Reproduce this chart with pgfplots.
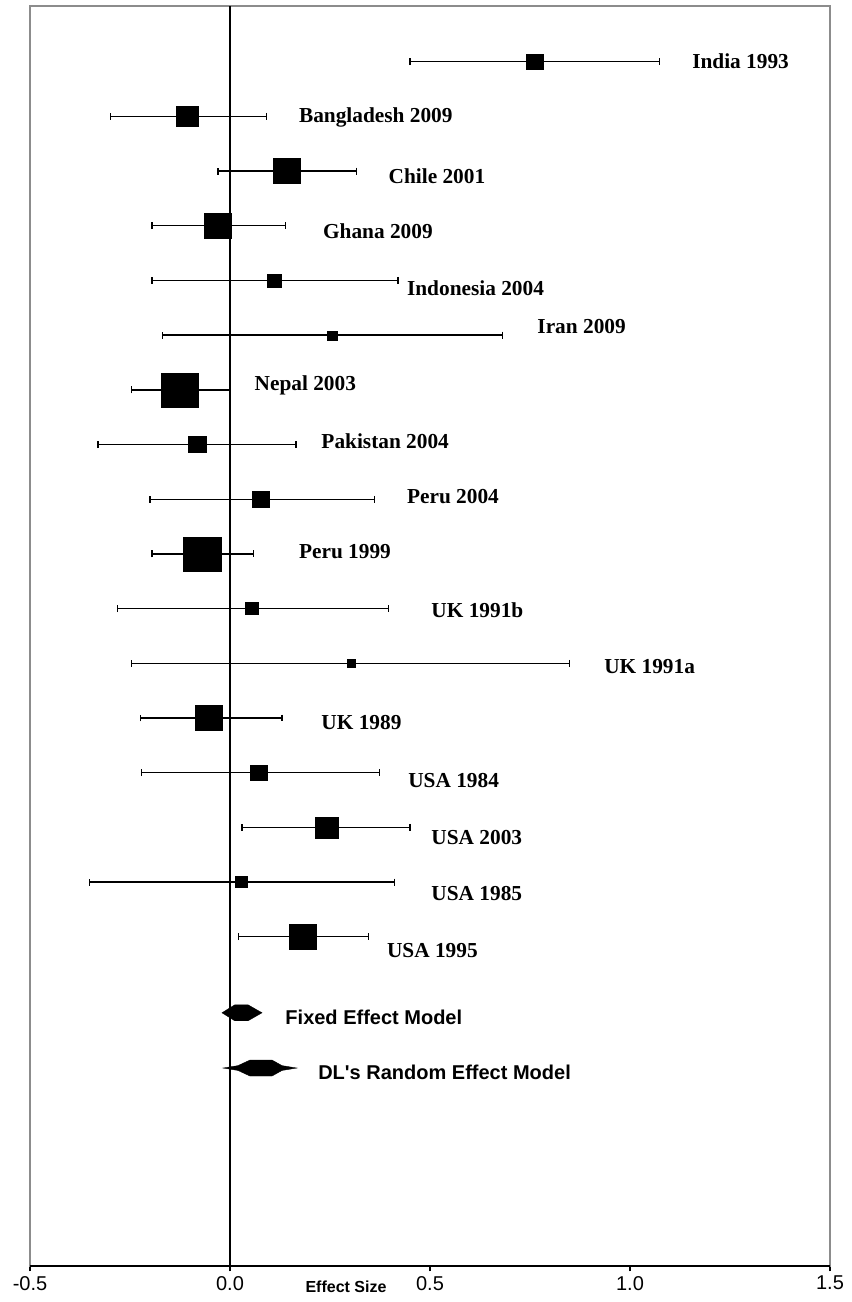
\documentclass[border=0pt]{standalone}
\usepackage{fontspec}
\setmainfont{Liberation Serif}
\setsansfont{Liberation Sans}
\usepackage{pgfplots}
\usepackage{pgfplotstable}
\pgfplotsset{compat=1.18}
\definecolor{framegray}{RGB}{140,140,140}
\tikzset{
  lab/.style={font=\fontsize{16}{16}\selectfont\bfseries, anchor=west, inner sep=0pt},
  mlab/.style={font=\fontsize{15}{15}\selectfont\sffamily\bfseries, anchor=west, inner sep=0pt},
}

\pgfplotstableread{
name x lo hi y s
India 0.762 0.450 1.074 0 15
Bangladesh -0.107 -0.299 0.0905 1 20
Chile 0.142 -0.030 0.316 2 25
Ghana -0.031 -0.195 0.139 3 25
Indonesia 0.111 -0.195 0.420 4 13
Iran 0.255 -0.169 0.681 5 9
Nepal -0.126 -0.247 -0.001 6 34
Pakistan -0.082 -0.330 0.165 7 16
Peru2004 0.077 -0.200 0.362 8 16
Peru1999 -0.070 -0.195 0.059 9 34
UK1991b 0.054 -0.281 0.397 10 12
UK1991a 0.303 -0.247 0.849 11 8
UK1989 -0.053 -0.224 0.130 12 25
USA1984 0.072 -0.222 0.373 13 15
USA2003 0.241 0.030 0.450 14 21
USA1985 0.028 -0.351 0.412 15 11
USA1995 0.181 0.022 0.347 16 25
}\studies

\begin{document}
\begin{tikzpicture}
\begin{axis}[
  scale only axis, width=600pt, height=945pt,
  xmin=-0.5, xmax=1.5, ymin=-1.018, ymax=22.02, y dir=reverse,
  xtick={-0.5,0,0.5,1,1.5},
  xticklabels={-0.5,0.0,0.5,1.0,1.5},
  ytick=\empty,
  xtick pos=lower, tick align=outside,
  major tick length=4pt,
  tick style={black, line width=0.8pt},
  axis line style={framegray, line width=0.8pt},
  xticklabel style={font=\fontsize{15}{15}\selectfont\sffamily},
  clip=false,
]
% bounding box matching reference margins
\path (axis cs:-0.575,-1.128) rectangle (axis cs:1.5525,22.678);
% bottom axis line in black
\draw[black, line width=1pt] (axis cs:-0.5,22.02) -- (axis cs:1.5,22.02);
% zero line
\addplot[black, line width=1pt] coordinates {(0,-1.018) (0,22.02)};
% confidence intervals
\addplot[only marks, mark=none,
  error bars/.cd, x dir=both, x explicit,
  error bar style={black, line width=1pt},
  error mark options={black, mark size=2.6pt, line width=1pt, rotate=90}]
  table[x=x, y=y,
    x error plus expr=\thisrow{hi}-\thisrow{x},
    x error minus expr=\thisrow{x}-\thisrow{lo}] {\studies};
% weighted squares
\addplot[scatter, only marks, mark=square*,
  scatter/use mapped color={draw=black, fill=black},
  visualization depends on={0.375*\thisrow{s} \as \ms},
  scatter/@pre marker code/.append style={/tikz/mark size=\ms},
  mark options={xscale=1.1, line width=0.2pt}]
  table[x=x, y=y] {\studies};
% fixed effect diamond
\addplot[fill=black, draw=black, line width=0.3pt] coordinates {
  (-0.020,17.39) (0.012,17.244) (0.045,17.244) (0.080,17.39) (0.045,17.536) (0.012,17.536)} --cycle;
% random effect diamond
\addplot[fill=black, draw=black, line width=0.3pt] coordinates {
  (-0.017,18.40) (0.020,18.356) (0.050,18.254) (0.105,18.254) (0.130,18.356) (0.167,18.40)
  (0.130,18.444) (0.105,18.546) (0.050,18.546) (0.020,18.444)} --cycle;
% labels
\node[lab] at (axis cs:1.155,0) {India 1993};
\node[lab] at (axis cs:0.172,1.011) {Bangladesh 2009};
\node[lab] at (axis cs:0.396,2.085) {Chile 2001};
\node[lab] at (axis cs:0.232,3.108) {Ghana 2009};
\node[lab] at (axis cs:0.442,4.138) {Indonesia 2004};
\node[lab] at (axis cs:0.768,4.851) {Iran 2009};
\node[lab] at (axis cs:0.061,5.911) {Nepal 2003};
\node[lab] at (axis cs:0.228,6.93) {Pakistan 2004};
\node[lab] at (axis cs:0.442,7.954) {Peru 2004};
\node[lab] at (axis cs:0.172,8.965) {Peru 1999};
\node[lab] at (axis cs:0.503,10.025) {UK 1991b};
\node[lab] at (axis cs:0.935,11.068) {UK 1991a};
\node[lab] at (axis cs:0.228,12.08) {UK 1989};
\node[lab] at (axis cs:0.445,13.15) {USA 1984};
\node[lab] at (axis cs:0.503,14.18) {USA 2003};
\node[lab] at (axis cs:0.503,15.2) {USA 1985};
\node[lab] at (axis cs:0.392,16.255) {USA 1995};
\node[mlab] at (axis cs:0.138,17.467) {Fixed Effect Model};
\node[mlab] at (axis cs:0.22,18.473) {DL{\addfontfeatures{Ligatures=TeXOff}'}s Random Effect Model};
\node[font=\fontsize{12}{12}\selectfont\sffamily\bfseries, anchor=base, inner sep=0pt]
  at (axis cs:0.29,22.02) [yshift=-20pt] {Effect Size};
\end{axis}
\end{tikzpicture}
\end{document}
